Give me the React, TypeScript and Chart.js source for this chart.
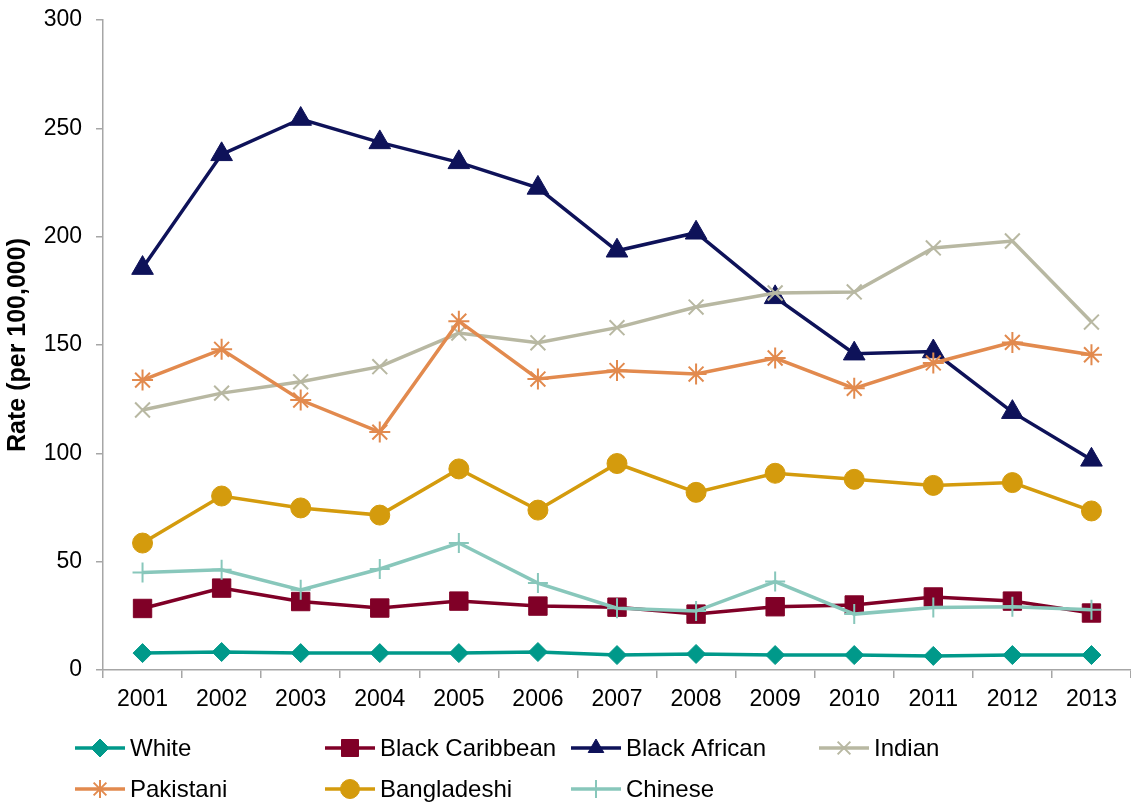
import React, { useEffect, useRef } from 'react';
import { Chart, registerables } from 'chart.js';
import { drawPoint } from 'chart.js/helpers';

Chart.register(...registerables);

// Rates per 100,000 by ethnic group, 2001–2013
const years = ['2001', '2002', '2003', '2004', '2005', '2006', '2007', '2008', '2009', '2010', '2011', '2012', '2013'];

const white = [7.8, 8.3, 7.8, 7.8, 7.8, 8.3, 6.9, 7.4, 6.9, 6.9, 6.5, 6.9, 6.9];
const blackCaribbean = [28.4, 37.8, 31.6, 28.6, 31.8, 29.5, 29.0, 25.8, 29.2, 30.0, 33.7, 31.8, 26.3];
const blackAfrican = [185.5, 238, 254.3, 243.5, 234.3, 222.5, 193.5, 201.8, 172, 146, 147, 119, 97];
const indian = [120, 127.8, 133, 140, 155.5, 151, 158, 167.5, 174, 174.5, 194.8, 198, 160.6];
const pakistani = [133.8, 148, 124.6, 109.8, 161, 134.3, 138.2, 136.6, 144, 130, 141.7, 151.2, 145.5];
const bangladeshi = [58.6, 80.3, 74.8, 71.5, 92.8, 73.8, 95.3, 82, 90.8, 88, 85.2, 86.5, 73.4];
const chinese = [45, 46.3, 37, 46.6, 58.6, 40.1, 28.5, 27.2, 40.8, 25.8, 28.8, 29.2, 27.8];

const yTicks = [0, 50, 100, 150, 200, 250, 300];

const FONT = '"Liberation Sans", Arial, sans-serif';

type SeriesStyle = { color: string; marker: string; radius: number; markerLine: number; legendRadius: number };

const series: { label: string; data: number[]; style: SeriesStyle }[] = [
  { label: 'White', data: white, style: { color: '#00998A', marker: 'rectRot', radius: 9.5, markerLine: 1, legendRadius: 9 } },
  { label: 'Black Caribbean', data: blackCaribbean, style: { color: '#800027', marker: 'rect', radius: 13, markerLine: 1, legendRadius: 12 } },
  { label: 'Black African', data: blackAfrican, style: { color: '#0E1259', marker: 'triangle', radius: 12.5, markerLine: 1, legendRadius: 9 } },
  { label: 'Indian', data: indian, style: { color: '#B8B8A2', marker: 'crossRot', radius: 10.5, markerLine: 2, legendRadius: 9 } },
  { label: 'Pakistani', data: pakistani, style: { color: '#E28A4E', marker: 'star', radius: 10.5, markerLine: 2, legendRadius: 9 } },
  { label: 'Bangladeshi', data: bangladeshi, style: { color: '#D49B0D', marker: 'circle', radius: 10, markerLine: 1, legendRadius: 9.5 } },
  { label: 'Chinese', data: chinese, style: { color: '#88C7BB', marker: 'cross', radius: 10, markerLine: 2, legendRadius: 9 } },
];

// Legend laid out as a fixed grid of four columns under the x axis
const legendGrid = {
  id: 'legendGrid',
  afterDraw(chart: any) {
    const ctx: CanvasRenderingContext2D = chart.ctx;
    const colX = [75, 325, 571, 819];
    const rowY = [748, 789];
    const sampleLen = 50;
    series.forEach((s, i) => {
      const x0 = colX[i % 4];
      const y = rowY[Math.floor(i / 4)];
      const st = s.style;
      ctx.save();
      ctx.strokeStyle = st.color;
      ctx.lineWidth = 3.5;
      ctx.lineCap = 'butt';
      ctx.beginPath();
      ctx.moveTo(x0, y);
      ctx.lineTo(x0 + sampleLen, y);
      ctx.stroke();
      ctx.fillStyle = st.color;
      ctx.strokeStyle = st.color;
      ctx.lineWidth = st.markerLine;
      drawPoint(ctx, { pointStyle: st.marker, radius: st.legendRadius, borderWidth: st.markerLine, rotation: 0 } as any, x0 + sampleLen / 2, y);
      ctx.fillStyle = '#000';
      ctx.font = `24px ${FONT}`;
      ctx.textAlign = 'left';
      ctx.textBaseline = 'middle';
      ctx.fillText(s.label, x0 + sampleLen + 5, y + 1);
      ctx.restore();
    });
  },
};

export default function App() {
  const canvasRef = useRef<HTMLCanvasElement | null>(null);

  useEffect(() => {
    const canvas = canvasRef.current;
    if (!canvas) return;
    const n = series.length;
    const chart = new Chart(canvas, {
      type: 'line',
      data: {
        labels: years,
        datasets: series.map((s, i) => ({
          label: s.label,
          data: s.data,
          borderColor: s.style.color,
          backgroundColor: s.style.color,
          borderWidth: 3.5,
          pointStyle: s.style.marker as any,
          pointRadius: s.style.radius,
          pointBorderWidth: s.style.markerLine,
          pointBackgroundColor: s.style.color,
          pointBorderColor: s.style.color,
          tension: 0,
          fill: false,
          clip: false as any,
          order: n - i,
        })),
      },
      options: {
        responsive: false,
        animation: false,
        devicePixelRatio: 1,
        layout: { autoPadding: false, padding: { top: 20, right: 0, bottom: 83, left: 0 } },
        plugins: {
          legend: { display: false },
          tooltip: { enabled: false },
        },
        scales: {
          x: {
            type: 'category',
            offset: true,
            grid: {
              offset: true,
              drawOnChartArea: false,
              drawTicks: true,
              tickLength: 8,
              color: '#A6A6A6',
              lineWidth: 1.5,
            },
            border: { color: '#A6A6A6', width: 1.5 },
            ticks: {
              color: '#000',
              font: { family: FONT, size: 23 },
              padding: 8,
              maxRotation: 0,
              autoSkip: false,
            },
            afterFit: (scale: any) => {
              scale.height = 50;
              scale.paddingLeft = 0;
              scale.paddingRight = 0;
            },
          },
          y: {
            min: 0,
            max: 300,
            afterBuildTicks: (scale: any) => {
              scale.ticks = yTicks.map((v) => ({ value: v }));
            },
            grid: {
              drawOnChartArea: false,
              drawTicks: true,
              tickLength: 7,
              color: '#A6A6A6',
              lineWidth: 1.5,
            },
            border: { color: '#A6A6A6', width: 1.5 },
            ticks: {
              color: '#000',
              font: { family: FONT, size: 23 },
              padding: 14,
            },
            title: {
              display: true,
              text: 'Rate (per 100,000)',
              color: '#000',
              font: { family: FONT, size: 25, weight: 'bold' },
              padding: { top: 3, bottom: 0 },
            },
            afterFit: (scale: any) => {
              scale.width = 103;
              scale.paddingTop = 0;
              scale.paddingBottom = 0;
            },
          },
        },
      },
      plugins: [legendGrid],
    });
    return () => chart.destroy();
  }, []);

  return (
    <div style={{ position: 'absolute', left: 0, top: 0, width: 1131, height: 803, background: '#fff' }}>
      <canvas ref={canvasRef} width={1131} height={803} style={{ display: 'block' }} />
    </div>
  );
}
